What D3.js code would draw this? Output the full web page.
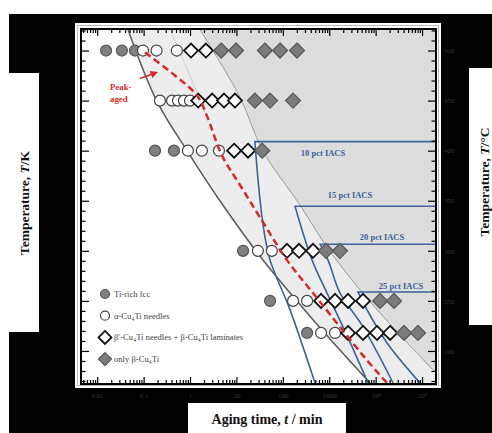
<!DOCTYPE html>
<html>
<head>
<meta charset="utf-8">
<script src="https://d3js.org/d3.v7.min.js"></script>
<style>
  html, body { margin: 0; padding: 0; background: #fff; }
  svg { display: block; }
  text { font-family: "Liberation Serif", "DejaVu Serif", serif; }
</style>
</head>
<body>
<div id="chart"></div>
<script>
// aging time (min) vs temperature (deg C)
var timeTicks = [0.01, 0.1, 1, 10, 100, 1000, 1e4, 1e5];
var timeTickLabels = ["0.01", "0.1", "1", "10", "100", "1000", "10\u2074", "10\u2075"];
var tempTicks = [200, 250, 300, 350, 400, 450, 500];

// markers: [time, temperature]
var tiRichFcc = [[0.0155, 500], [0.034, 500], [0.065, 500], [0.176, 400], [0.45, 400],
    [13.9, 300], [53, 250], [333, 218]];
var alphaNeedles = [[0.097, 500], [0.19, 500], [0.52, 500],
    [0.225, 450], [0.41, 450], [0.55, 450], [0.74, 450], [1.0, 450],
    [0.9, 400], [1.8, 400], [4.2, 400],
    [29, 300], [58, 300], [166, 250], [333, 250], [666, 218], [1334, 218]];
var betaMixed = [[1.05, 500], [2.2, 500],
    [1.5, 450], [3.0, 450], [5.4, 450], [9.3, 450],
    [8.9, 400], [17.8, 400],
    [123, 300], [223, 300], [447, 300],
    [666, 250], [1334, 250], [2540, 250], [5350, 250],
    [2540, 218], [5350, 218], [10700, 218], [20500, 218]];
var betaOnly = [[4.7, 500], [9.8, 500], [41, 500], [87, 500], [202, 500],
    [25, 450], [53, 450], [166, 450], [36, 400],
    [850, 300], [1700, 300], [12450, 250], [24900, 250], [40900, 218], [81800, 218]];

// boundaries
var fccBoundary = [[0.046, 521], [0.19, 450], [0.86, 400], [4.4, 350], [37, 291], [450, 231], [7600, 168]];
var betaBoundary = [[1.64, 521], [12, 453], [37, 400], [235, 345.5], [897, 303.6], [4610, 261], [33500, 216], [190000, 179]];
var faintLine = [[0.37, 521], [1.42, 458], [2.1, 438]];
var peakAged = [[0.107, 498], [0.475, 475], [1.42, 455], [2.3, 435], [4.9, 395], [12, 365.5], [32, 333.6],
    [123, 290.7], [447, 257.8], [1710, 224], [5900, 193], [17600, 168]];

// conductivity iso-lines
var iacsLabels = ["10 pct IACS", "15 pct IACS", "20 pct IACS", "25 pct IACS"];
var iacs10 = [[190000, 409], [25, 409], [30.7, 360.5], [39, 320.6], [53, 290.7], [143, 241], [494, 168]];
var iacs15 = [[190000, 344.5], [183, 344.5], [426, 290.7], [897, 257.8], [1985, 224], [6860, 168]];
var iacs20 = [[190000, 306.6], [634, 306.6], [942, 290.7], [1710, 257.8], [5350, 224], [23700, 168]];
var iacs25 = [[190000, 258.8], [4180, 258.8], [6530, 241], [17600, 208], [90600, 168]];
var iacsLabelPos = [[735, 395], [2800, 352.5], [13700, 310.6], [35300, 261.8]];

var legendLabels = ["Ti-rich fcc", "\u03b1-Cu\u2084Ti needles",
    "\u03b2\u2032-Cu\u2084Ti needles + \u03b2-Cu\u2084Ti laminates", "only \u03b2-Cu\u2084Ti"];

var W = 492, H = 433;
var pL = 82, pR = 435, pT = 30, pB = 383;

var svg = d3.select("#chart").append("svg").attr("width", W).attr("height", H);

// black backdrop and label boxes
svg.append("rect").attr("x", 9).attr("y", 14).attr("width", W - 9).attr("height", H - 14).attr("fill", "#000");
svg.append("rect").attr("x", 0).attr("y", 73).attr("width", 39).attr("height", 259).attr("fill", "#fff");
svg.append("rect").attr("x", 469).attr("y", 68).attr("width", 23).attr("height", 257).attr("fill", "#fff");
svg.append("rect").attr("x", 188).attr("y", 403).attr("width", 158).attr("height", 30).attr("fill", "#fff");
svg.append("rect").attr("x", 75).attr("y", 23).attr("width", 366).attr("height", 365).attr("fill", "#fff");
svg.append("rect").attr("x", 77.5).attr("y", 25.5).attr("width", 361).attr("height", 360)
    .attr("fill", "none").attr("stroke", "#aaa").attr("stroke-width", 0.8);

var x = d3.scaleLog().domain([0.0047, 190000]).range([pL, pR]);
var y = d3.scaleLinear().domain([168, 520.5]).range([pB, pT]);

svg.append("clipPath").attr("id", "plotclip").append("rect")
    .attr("x", pL).attr("y", pT).attr("width", pR - pL).attr("height", pB - pT);

var plot = svg.append("g").attr("clip-path", "url(#plotclip)");

var line = d3.line().x(function (d) { return x(d[0]); }).y(function (d) { return y(d[1]); })
    .curve(d3.curveCatmullRom);
var straight = d3.line().x(function (d) { return x(d[0]); }).y(function (d) { return y(d[1]); });

// shaded regions
var xd = x.domain(), yd = y.domain();
plot.append("rect").attr("x", pL).attr("y", pT).attr("width", pR - pL).attr("height", pB - pT)
    .attr("fill", "#ededed");
plot.append("path")
    .attr("d", line(fccBoundary) + straight([[xd[0], yd[0]], [xd[0], yd[1] + 5], [fccBoundary[0][0], yd[1] + 5]]).replace("M", "L") + "Z")
    .attr("fill", "#fff");
plot.append("path")
    .attr("d", line(betaBoundary) + straight([[xd[1] * 2, betaBoundary[betaBoundary.length - 1][1]], [xd[1] * 2, yd[1] + 5], [betaBoundary[0][0], yd[1] + 5]]).replace("M", "L") + "Z")
    .attr("fill", "#dddddd");

plot.append("path").attr("d", line(faintLine)).attr("fill", "none").attr("stroke", "#c8c8c8").attr("stroke-width", 0.8);
plot.append("path").attr("d", line(betaBoundary)).attr("fill", "none").attr("stroke", "#9a9a9a").attr("stroke-width", 1);
plot.append("path").attr("d", line(fccBoundary)).attr("fill", "none").attr("stroke", "#5a5a5a").attr("stroke-width", 1.5);

// IACS lines
var blue = "#3d6299";
[iacs10, iacs15, iacs20, iacs25].forEach(function (c) {
    plot.append("path").attr("d", straight(c.slice(0, 2)) + line(c.slice(1)).replace("M", "L"))
        .attr("fill", "none").attr("stroke", blue).attr("stroke-width", 1.6);
});
plot.selectAll("text.iacs").data(iacsLabels).enter().append("text")
    .attr("class", "iacs")
    .attr("x", function (d, i) { return x(iacsLabelPos[i][0]); })
    .attr("y", function (d, i) { return y(iacsLabelPos[i][1]); })
    .attr("text-anchor", "middle").attr("font-size", 8.5).attr("font-weight", "bold")
    .attr("fill", blue).text(function (d) { return d; });

// markers
var diamond = function (s) { return "M0," + (-s) + "L" + s + ",0L0," + s + "L" + (-s) + ",0Z"; };
function pos(d) { return "translate(" + x(d[0]) + "," + y(d[1]) + ")"; }

plot.selectAll("circle.fcc").data(tiRichFcc).enter().append("circle").attr("class", "fcc")
    .attr("cx", function (d) { return x(d[0]); }).attr("cy", function (d) { return y(d[1]); })
    .attr("r", 5.5).attr("fill", "#808080").attr("stroke", "#555").attr("stroke-width", 1.2);
plot.selectAll("circle.alpha").data(alphaNeedles).enter().append("circle").attr("class", "alpha")
    .attr("cx", function (d) { return x(d[0]); }).attr("cy", function (d) { return y(d[1]); })
    .attr("r", 5.5).attr("fill", "#fff").attr("stroke", "#444").attr("stroke-width", 1.2);
plot.selectAll("path.mixed").data(betaMixed).enter().append("path").attr("class", "mixed")
    .attr("transform", pos).attr("d", diamond(7))
    .attr("fill", "#fff").attr("stroke", "#111").attr("stroke-width", 1.8);
plot.selectAll("path.only").data(betaOnly).enter().append("path").attr("class", "only")
    .attr("transform", pos).attr("d", diamond(7.5))
    .attr("fill", "#7b7b7b").attr("stroke", "#555").attr("stroke-width", 1.2);

// peak-aged curve
var red = "#d42a2a";
plot.append("path").attr("d", line(peakAged)).attr("fill", "none").attr("stroke", red)
    .attr("stroke-width", 2.5).attr("stroke-dasharray", "7,4");

svg.append("defs").append("marker").attr("id", "arrow").attr("viewBox", "0 0 10 10")
    .attr("refX", 8).attr("refY", 5).attr("markerWidth", 5).attr("markerHeight", 5).attr("orient", "auto")
    .append("path").attr("d", "M0,0L10,5L0,10Z").attr("fill", red);
plot.append("path").attr("d", straight([[0.0836, 472], [0.19, 478]]))
    .attr("stroke", red).attr("stroke-width", 1.5).attr("marker-end", "url(#arrow)");
plot.append("text").attr("x", x(0.0189)).attr("y", y(461)).attr("font-size", 8.8).attr("font-weight", "bold")
    .attr("fill", red).text("Peak-");
plot.append("text").attr("x", x(0.0189)).attr("y", y(449)).attr("font-size", 8.8).attr("font-weight", "bold")
    .attr("fill", red).text("aged");

// legend
var lg = svg.append("g").attr("transform", "translate(105,294)");
var rowGap = 21.7;
lg.append("circle").attr("cx", 0).attr("cy", 0).attr("r", 4.5).attr("fill", "#808080").attr("stroke", "#555").attr("stroke-width", 1.2);
lg.append("circle").attr("cx", 0).attr("cy", rowGap).attr("r", 4.5).attr("fill", "#fff").attr("stroke", "#444").attr("stroke-width", 1.2);
lg.append("path").attr("transform", "translate(0," + 2 * rowGap + ")").attr("d", diamond(6.5))
    .attr("fill", "#fff").attr("stroke", "#111").attr("stroke-width", 1.8);
lg.append("path").attr("transform", "translate(0," + 3 * rowGap + ")").attr("d", diamond(6.5))
    .attr("fill", "#7b7b7b").attr("stroke", "#555").attr("stroke-width", 1.2);
lg.selectAll("text").data(legendLabels).enter().append("text")
    .attr("x", 9).attr("y", function (d, i) { return i * rowGap + 3; })
    .attr("font-size", 8.6).attr("fill", "#444").text(function (d) { return d; });

// axes
var majorTime = x.ticks().filter(function (t) { return Math.abs(Math.log10(t) - Math.round(Math.log10(t))) < 1e-9; });
var minorTime = x.ticks().filter(function (t) { return majorTime.indexOf(t) < 0; });
var minorTemp = d3.range(170, 521, 10).filter(function (t) { return tempTicks.indexOf(t) < 0; });

function styleAxis(g) {
    g.select(".domain").remove();
    g.selectAll("line").attr("stroke", "#000").attr("stroke-width", 1.2);
}

svg.append("g").attr("transform", "translate(0," + pT + ")")
    .call(d3.axisBottom(x).tickValues(majorTime).tickSize(6).tickFormat("")).call(styleAxis);
svg.append("g").attr("transform", "translate(0," + pT + ")")
    .call(d3.axisBottom(x).tickValues(minorTime).tickSize(3).tickFormat("")).call(styleAxis);
svg.append("g").attr("transform", "translate(0," + pB + ")")
    .call(d3.axisBottom(x).tickValues(timeTicks).tickSize(-6).tickPadding(10)
        .tickFormat(function (d, i) { return timeTickLabels[i]; }))
    .call(styleAxis)
    .selectAll("text").attr("fill", "#3a3a3a").attr("font-size", 7)
    .style("font-family", "'Liberation Serif', serif");
svg.append("g").attr("transform", "translate(0," + pB + ")")
    .call(d3.axisBottom(x).tickValues(minorTime).tickSize(-3).tickFormat("")).call(styleAxis);

svg.append("g").attr("transform", "translate(" + pL + ",0)")
    .call(d3.axisRight(y).tickValues(tempTicks).tickSize(7).tickFormat("")).call(styleAxis);
svg.append("g").attr("transform", "translate(" + pL + ",0)")
    .call(d3.axisRight(y).tickValues(minorTemp).tickSize(3.5).tickFormat("")).call(styleAxis);
svg.append("g").attr("transform", "translate(" + pR + ",0)")
    .call(d3.axisRight(y).tickValues(tempTicks).tickSize(-7).tickPadding(9))
    .call(styleAxis)
    .selectAll("text").attr("fill", "#3a3a3a").attr("font-size", 7)
    .style("font-family", "'Liberation Serif', serif");
svg.append("g").attr("transform", "translate(" + pR + ",0)")
    .call(d3.axisRight(y).tickValues(minorTemp).tickSize(-3.5).tickFormat("")).call(styleAxis);

svg.append("rect").attr("x", pL - 1).attr("y", pT - 1).attr("width", pR - pL + 2).attr("height", pB - pT + 2)
    .attr("fill", "none").attr("stroke", "#000").attr("stroke-width", 2);

// axis titles
svg.append("text").attr("transform", "translate(29,203) rotate(-90)")
    .attr("text-anchor", "middle").attr("font-size", 13.5).attr("font-weight", "bold").attr("fill", "#111")
    .html("Temperature, <tspan font-style='italic'>T</tspan>/K");
svg.append("text").attr("transform", "translate(489,182) rotate(-90)")
    .attr("text-anchor", "middle").attr("font-size", 13.5).attr("font-weight", "bold").attr("fill", "#111")
    .html("Temperature, <tspan font-style='italic'>T</tspan>/\u00b0C");
svg.append("text").attr("x", 267).attr("y", 424)
    .attr("text-anchor", "middle").attr("font-size", 14).attr("font-weight", "bold").attr("fill", "#111")
    .html("Aging time, <tspan font-style='italic'>t</tspan> / min");
</script>
</body>
</html>
